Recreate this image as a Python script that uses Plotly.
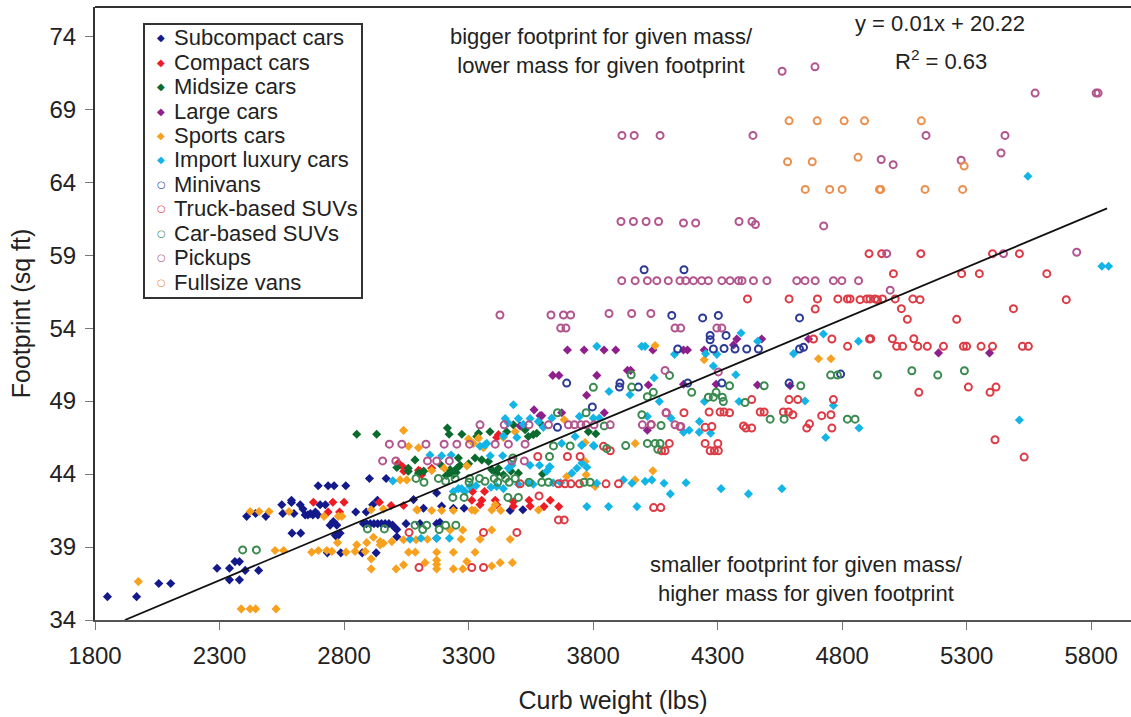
import plotly.graph_objects as go

# (curb weight lbs, footprint sq ft)
subcompact = [(1850,35.6),(1967,35.6),(2056,36.5),(2104,36.5),(2290,37.55),(2340,37.55),(2362,38),(2380,38),(2403,37.4),(2457,37.4),(2340,36.75),(2380,36.75),
 (2409,41.1),(2445,41.3),(2486,41.1),(2550,41.9),(2554,41.3),(2589,42.2),(2589,42.05),(2599,41.3),(2624,41.9),(2635,41.6),(2644,41.2),(2655,41.2),(2665,41.3),(2675,41.2),(2685,41.4),(2695,41.2),(2704,41.9),(2725,41.9),
 (2696,43.2),(2736,43.2),(2760,43.2),(2807,43.2),(2744,40.5),(2771,40.5),(2757,40.75),(2591,39.95),(2626,39.95),(2771,39.7),(2784,39.95),(2765,39.8),
 (2733,38.6),(2787,38.6),(2873,38.6),(2929,38.6),(2847,41.4),(2889,41.4),(2915,41.9),(2934,42.2),(2902,43.7),(2969,43.7),
 (2878,40.6),(2890,40.6),(2905,40.6),(2920,40.6),(2935,40.6),(2950,40.6),(2965,40.6),(2980,40.6),(2995,40.5),(3005,40.3),(3012,40.2),(3049,40.6),(3079,42.25),(3012,39.7),
 (3105,40.6),(3172,40.6),(3185,40.7),(3119,41.66),(3172,42.7),(3192,41.8),(3239,41.66),(3282,41.66),(3467,41.5),(3518,41.55),(3172,39.6)]
compact = [(2677,42.07),(2755,42.07),(2800,42.07),(2736,41.4),(2782,41.4),(2942,42.07),(2989,41.85),(3039,41.85),(3036,44.5),(3018,44.75),(3040,44.2),(3099,44.25),(3105,44.2),(3112,43.95),(3152,44.4),
 (3316,42.8),(3364,42.8),(3313,42.2),(3353,42.2),(3346,41.9),(3407,42.2),(3413,41.9),(3480,42.1),(3480,41.8),(3543,42.2),(3547,41.8),(3603,41.77),(3628,42.2),(3662,41.77),(3420,46.7),(3413,46.5)]
midsize = [(2851,46.73),(2931,46.73),(3215,47.15),(3222,46.73),(3273,46.73),(3340,46.8),(3386,46.9),(3333,46.57),(3480,47.37),(3453,46.9),(3527,47.03),(3540,46.57),(3574,46.8),(3587,47.5),(3560,46.7),(3085,44.97),
 (3012,44.45),(3058,44.4),(3058,44.2),(3099,44.06),(3226,44.3),(3259,45.1),(3253,44.4),(3239,43.95),(3266,44.6),(3326,45.1),(3353,44.97),(3380,44.86),(3393,44.3),(3413,44.06),(3440,43.95),(3500,44.06),(3597,44),(3781,46.9),(3811,46.76),(3225,44.1),(3210,43.9),(3420,44.4),(3470,44.2),(3120,44.2),(3190,44.6),(3250,44.1),(3300,44.7)]
large = [(3697,52.5),(3764,52.5),(3844,52.5),(3891,52.5),(4040,52.5),(4163,52.5),(4179,52.5),(4246,52.5),(4377,53.25),(4364,52.85),(4477,53.25),(3638,50.76),(3663,50.76),(3815,50.76),(3938,51.1),(3951,51.1),(4022,50.1),(4163,50.15),(4294,50.15),(4460,50.1),(3774,49.4),(3845,48.2),(3674,48.2),(3594,48),(4018,47),(4591,50.05),(4665,53.25),(3563,48.4),(3587,48),(3507,47.3),(5187,52.3),(5392,52.3)]
sports = [(1974,36.63),(2387,34.76),(2423,34.76),(2445,34.76),(2527,34.76),(2423,41.43),(2459,41.43),(2499,41.43),(2579,41.43),(2523,38.76),(2557,38.76),(2670,38.65),(2697,38.76),(2731,38.76),(2751,38.7),(2808,38.65),(2844,38.7),(2774,39.3),(2720,41.1),(2777,41.1),(2791,41.1),(2851,39.15),(2891,39.3),(2918,39.67),(2945,39.37),(2958,39.26),(2992,39.37),(2945,39.15),(2885,38.7),(2909,38.19),(2909,37.5),(3009,37.5),(3039,37.78),(3059,38.65),(3086,38.65),(3039,39.5),(2909,41.55),(2958,41.6),(3025,43.6),(3052,43.6),(3039,46.99),(3059,45.9),(3099,45.8),(3092,41.55),
 (3152,44.24),(3202,44.4),(3293,44.56),(3300,46.4),(3340,46.46),(3487,46.9),(3095,41.54),(3152,41.5),(3192,41.5),(3239,41.5),(3313,41.54),(3326,41.5),(3393,41.54),(3429,41.5),(3407,41.9),(3581,41.54),(3320,46.1),(3360,45.8),(3440,46.5),
 (3089,39.5),(3135,39.53),(3226,40.17),(3277,40.17),(3270,39.53),(3239,38.64),(3326,38.64),(3172,38.64),(3172,38.1),(3172,37.8),(3172,37.5),(3125,37.93),(3239,37.5),(3277,37.5),(3293,38),(3346,39.53),(3393,40.17),(3467,39.53),(3393,37.7),(3427,37.93),(3476,37.93),
 (3969,46.1),(3768,46.16),(3768,44.86),(3772,43.95),(3694,43.83),(3684,47.72),(4040,44.22),(3808,43.15),(3969,43.6),(4049,52.8),(4246,51.83),(4705,51.9),(4755,51.9)]
import_luxury = [(2996,43.53),(3145,45.3),(3192,45.25),(3230,45.3),(3065,39.53),(3109,39.6),(3172,39.6),(3223,39.6),(3239,42.8),(3259,43),(3286,42.8),(3306,43.15),(3272,43),(3387,45.25),(3437,45.25),(3346,45.9),(3366,46),(3460,44.4),(3474,44.6),(3440,43),(3413,43.15),(3480,48.75),(3447,47.8),(3500,47.8),(3547,47.8),(3634,47.83),
 (3330,43.2),(3390,43.1),(3500,43.3),(3540,43.4),(3560,43.3),(3640,43.4),(3670,43.4),(3460,47.5),(3520,47.4),(3580,47.6),(3600,47.2),(3373,46.1),(3440,46.6),(3494,46.5),
 (3547,44.6),(3585,44.6),(3625,44.5),(3614,44.2),(3674,46.1),(3728,46.57),(3755,46),(3804,45.93),(3755,44.75),(3735,44.4),(3715,44.06),(3775,44.47),(3815,43.37),(3922,43.6),(3956,43.37),(4009,43.5),(4036,43.6),(4085,43.37),(3775,41.77),(3862,41.77),(3976,41.77),(4110,42.64),
 (3815,52.75),(3995,52.75),(4009,52.75),(4127,52.2),(4252,52.25),(4297,52.2),(4394,53.66),(4461,53.1),(4605,52.25),(4725,53.6),(4866,53.1),(4045,50.6),(4283,51.4),(4373,50.8),(3864,49.66),(3948,49.43),(4066,48.97),(4247,48.97),(4386,48.97),(4651,49),(4765,48.7),(3745,47.95),(3801,47.83),(3825,47.83),(4018,47.95),(4113,47.83),(4227,47.6),(4226,46.87),(4163,46.87),(4186,47),(4272,46.8),(4734,46.5),(4868,47.15),(3754,45.96),(3801,45.96),
 (3627,44.5),(4173,43.4),(4314,43),(4424,42.64),(4558,43),(5843,58.24),(5870,58.24),(5512,47.7),(5546,64.4)]
minivans = [(4116,54.87),(4240,54.7),(4303,54.87),(4629,54.7),(4270,53.5),(4270,53.2),(4334,53.5),(4140,52.57),(4283,52.57),(4326,52.6),(4370,52.57),(4417,52.57),(4464,52.57),(4629,52.57),(4645,52.68),(3694,50.23),(3908,50.23),(3906,49.96),(3982,49.96),(4180,50.23),(4317,50.23),(4587,50.23),(3797,48.6),(3657,47.2),(4794,50.85),(4005,58),(4165,58)]
truck_suvs = [(3061,40),(3360,40),(3494,40),(3583,42.5),(3101,37.6),(3313,37.6),(3360,37.6),(3661,40.86),(3684,40.86),(3507,43.33),(3661,43.33),(3687,43.33),(3711,43.33),(3745,43.33),(3852,43.33),(3902,43.33),(4043,41.7),(4072,41.7),(3578,45.2),(3697,45.2),(3748,45.2),(3842,45.9),(3869,45.6),
 (4420,56),(4587,56),(4701,56),(4692,55.3),(4783,56),(4821,56),(4832,56),(4872,55.95),(4685,53.25),(4759,53.25),(4822,52.75),(4910,53.25),(4437,49.1),(4587,49.1),(4622,49.1),(4765,49.1),(4093,48.2),(4165,48.2),(4266,48.25),(4310,48.25),(4326,48.25),(4348,48.2),(4471,48.25),(4487,48.25),(4564,48.25),(4585,48.25),(4602,48.06),(4718,48),(4755,48.06),(4033,47.4),(4149,47.26),(4250,47.2),(4277,47.26),(4404,47.3),(4414,47.15),(4437,47.15),(4669,47.44),(4658,47.15),(4759,47.15),(4106,46.1),(4250,46.1),(4301,46.1),(4089,45.6),(4075,45.6),(4270,45.6),(4287,45.6),(4303,45.6),
 (4908,59.1),(4959,59.1),(5116,59.1),(5404,59.1),(5512,59.1),(5006,57.73),(5280,57.73),(5351,57.73),(5622,57.73),(4899,56),(4912,56),(4932,56),(4942,55.95),(4962,56),(5013,56),(5084,56),(5113,55.95),(5038,55.33),(5062,54.6),(5260,54.6),(5488,55.33),(5700,55.95),(4915,53.27),(5002,53.27),(5019,52.75),(5043,52.75),(5088,53.27),(5104,52.75),(5142,52.75),(5207,52.75),(5287,52.75),(5300,52.75),(5358,52.75),(5404,52.75),(5524,52.75),(5548,52.75),(5108,49.6),(5307,49.96),(5394,49.6),(5418,49.96),(5414,46.35),(5531,45.16)]
car_suvs = [(2393,38.8),(2448,38.8),(2894,40.24),(2962,40.24),(3085,40.5),(3116,40.2),(3132,40.5),(3182,40.2),(3208,40.5),(3249,40.5),(3237,42.4),(3282,42.4),(3458,42.4),(3500,42.4),(3089,43.7),(3121,43.44),(3179,43.7),(3208,43.5),(3246,43.7),(3304,43.7),(3302,43.44),(3344,43.7),(3366,43.5),(3403,43.7),(3417,43.44),(3449,43.7),(3463,43.44),(3487,43.7),(3543,43.44),(3594,43.44),(3621,43.44),(3764,43.44),(3788,43.44),(3625,45.2),(3478,45.1),(3641,45.93),(3708,45.93),(3855,45.75),(3931,45.95),(4018,46.1),(4049,46.1),(4069,46.1),(4060,45.7),(3845,47.3),(4073,47.33),(3996,48.06),(3657,48.2),(3772,48.2),
 (3953,50.8),(4107,50.76),(3801,49.94),(3955,49.96),(4042,49.6),(4018,49.3),(4196,49.6),(4348,50.05),(4487,50.05),(4634,50.05),(4263,49.27),(4283,49.27),(4294,49.6),(4319,49.27),(4323,48.97),(4410,48.9),(4511,47.76),(4567,47.76),(4821,47.76),(4852,47.76),(4754,50.78),(4781,50.78),(4942,50.78),(5080,51.08),(5184,50.78),(5291,51.08)]
pickups = [(2982,46.05),(3032,46.05),(3129,46.05),(3202,46.05),(3253,46.05),(3304,46.05),(3407,46.05),(3460,46.05),(3527,46.05),(2955,44.9),(3008,44.9),(3135,44.9),(3172,44.9),(3223,44.9),(3474,44.9),(3524,44.9),(3346,47.37),(3443,47.37),(3543,47.37),(3621,47.37),(3701,47.37),(3725,47.37),(3751,47.37),(3772,47.37),(3804,47.37),(3869,47.37),(3998,47.37),(4033,47.37),(4129,47.37),(4152,47.26),(4094,48.2),(4089,51.1),(4303,51),
 (3426,54.9),(3631,54.9),(3681,54.9),(3710,54.9),(3864,55),(3955,55),(4032,55),(3670,54),(3691,54),(4129,54),(4152,54),(4297,54),(4317,54),
 (3915,57.25),(3969,57.25),(4018,57.25),(4056,57.25),(4102,57.25),(4149,57.25),(4172,57.25),(4203,57.25),(4236,57.25),(4263,57.25),(4317,57.25),(4350,57.25),(4384,57.25),(4398,57.25),(4444,57.25),(4498,57.25),(4618,57.25),(4651,57.25),(4692,57.25),(4765,57.25),(4799,57.25),(4866,57.25),(4993,56.6),(4979,59.1),(5448,59.1),(5742,59.2),
 (3912,61.3),(3962,61.3),(4013,61.3),(4063,61.3),(4163,61.2),(4212,61.2),(4386,61.3),(4438,61.3),(4452,61.1),(4726,61),(3916,67.2),(3965,67.2),(4069,67.2),(4442,67.2),(5137,67.2),(5454,67.2),(5438,66),(4559,71.6),(4691,71.9),(5575,70.1),(5820,70.1),(5828,70.1),(4957,65.55),(5005,65.2),(5278,65.5)]
fullsize_vans = [(4587,68.2),(4700,68.2),(4808,68.2),(4890,68.2),(5118,68.2),(4581,65.4),(4680,65.4),(4864,65.7),(5290,65.1),(4652,63.5),(4750,63.5),(4800,63.5),(4950,63.5),(4955,63.5),(5133,63.5),(5284,63.5)]

trend_weight = [1920, 5864]
trend_footprint = [34, 62.2]
x_ticks = [1800, 2300, 2800, 3300, 3800, 4300, 4800, 5300, 5800]
y_ticks = [34, 39, 44, 49, 54, 59, 64, 69, 74]

series = [
    ("Subcompact cars", subcompact, "#14198C", "diamond"),
    ("Compact cars", compact, "#EE1C25", "diamond"),
    ("Midsize cars", midsize, "#0B6B2E", "diamond"),
    ("Large cars", large, "#8E1F8C", "diamond"),
    ("Sports cars", sports, "#F7A11E", "diamond"),
    ("Import luxury cars", import_luxury, "#12B5E5", "diamond"),
    ("Minivans", minivans, "#2B3A94", "circle-open"),
    ("Truck-based SUVs", truck_suvs, "#DC3B45", "circle-open"),
    ("Car-based SUVs", car_suvs, "#3B8A50", "circle-open"),
    ("Pickups", pickups, "#B2558E", "circle-open"),
    ("Fullsize vans", fullsize_vans, "#EA8F4E", "circle-open"),
]

W, H = 1131, 717
L, T, B = 95, 7, 620
def fx(px):
    return (px - L) / (W - L)
def fy(py):
    return (B - py) / (B - T)

fig = go.Figure()
for name, pts, color, sym in series:
    is_open = sym.endswith("open")
    fig.add_trace(go.Scatter(
        x=[p[0] for p in pts], y=[p[1] for p in pts], mode="markers", name=name, showlegend=False,
        marker=dict(symbol=sym, size=7 if is_open else 7, color=color,
                    line=dict(width=2 if is_open else 0, color=color)),
    ))
fig.add_trace(go.Scatter(x=trend_weight, y=trend_footprint, mode="lines", showlegend=False,
                         line=dict(color="#111111", width=1.8)))

annotations = [
    dict(text="bigger footprint for given mass/<br>lower mass for given footprint", x=fx(601), y=fy(51), font=dict(size=22)),
    dict(text="y = 0.01x + 20.22", x=fx(940), y=fy(24), font=dict(size=22)),
    dict(text="R<sup>2</sup> = 0.63", x=fx(941), y=fy(60), font=dict(size=22)),
    dict(text="smaller footprint for given mass/<br>higher mass for given footprint", x=fx(806), y=fy(579), font=dict(size=22)),
]
row0, row_step = 38, 24.4
for i, (name, pts, color, sym) in enumerate(series):
    y = fy(row0 + i * row_step)
    annotations.append(dict(text=name, x=fx(172), y=y, xanchor="left", font=dict(size=22)))
    annotations.append(dict(text="<b>◆</b>" if sym == "diamond" else "<b>○</b>", x=fx(161), y=y,
                            font=dict(size=10, color=color, family="DejaVu Sans")))
for a in annotations:
    a.setdefault("xanchor", "center")
    a.update(xref="paper", yref="paper", showarrow=False, yanchor="middle")

fig.update_layout(
    width=W, height=H, margin=dict(l=L, r=0, t=T, b=H - B),
    paper_bgcolor="white", plot_bgcolor="white",
    font=dict(family="Liberation Sans, Arial, sans-serif", color="#222222"),
    showlegend=False,
    xaxis=dict(range=[1800, 5960], tickvals=x_ticks, ticks="outside", ticklen=8, tickcolor="#777777",
               tickfont=dict(size=24), ticklabelstandoff=5, showgrid=False, zeroline=False,
               showline=True, linecolor="#555555", linewidth=1.5,
               title=dict(text="Curb weight (lbs)", font=dict(size=25), standoff=24)),
    yaxis=dict(range=[34, 76], tickvals=y_ticks, ticks="outside", ticklen=8, tickcolor="#777777",
               tickfont=dict(size=24), ticklabelstandoff=4, showgrid=False, zeroline=False,
               showline=True, linecolor="#333333", linewidth=2,
               title=dict(text="Footprint (sq ft)", font=dict(size=25), standoff=12)),
    shapes=[
        dict(type="line", xref="paper", yref="paper", x0=0, x1=1, y0=1, y1=1, line=dict(color="#333333", width=2)),
        dict(type="rect", xref="paper", yref="paper", x0=fx(144), x1=fx(362), y0=fy(298), y1=fy(24),
             line=dict(color="#333333", width=2), fillcolor="white", layer="below"),
    ],
    annotations=annotations,
)
fig.write_html("out.html", config={"displayModeBar": False}, post_script="document.body.style.margin='0';")
